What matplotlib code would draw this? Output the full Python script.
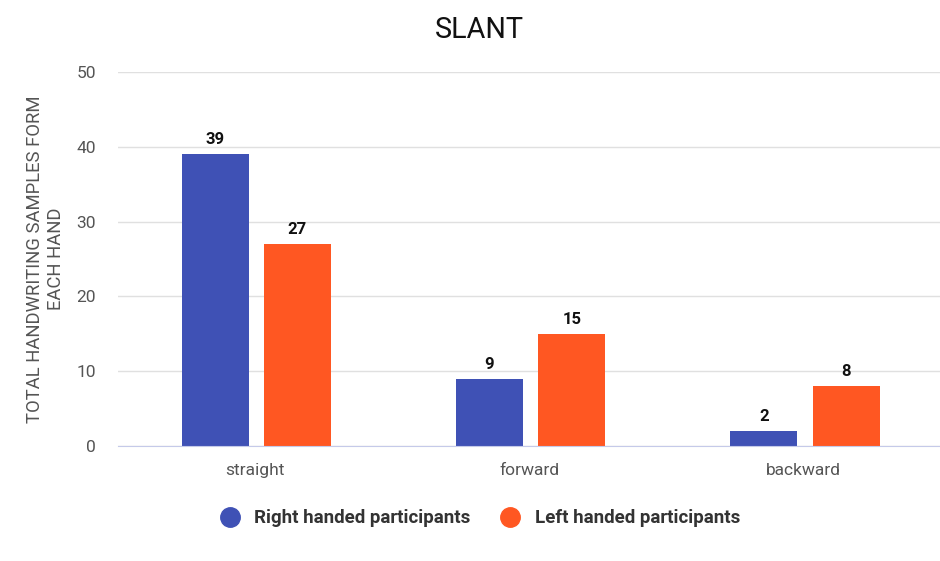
import matplotlib.pyplot as plt
from matplotlib.lines import Line2D
import numpy as np

categories = ["straight", "forward", "backward"]
right_handed = [39, 9, 2]
left_handed = [27, 15, 8]
series_names = ["Right handed participants", "Left handed participants"]
y_ticks = [0, 10, 20, 30, 40, 50]

blue = "#3F51B5"
orange = "#FF5722"

plt.rcParams["font.family"] = ["Roboto", "DejaVu Sans"]

fig = plt.figure(figsize=(9.4, 5.61), dpi=100)
ax = fig.add_axes([118 / 940, 115 / 561, 823 / 940, 374 / 561])

x = np.arange(len(categories))
width = 0.244
offset = 0.15

bars_r = ax.bar(x - offset + 0.004, right_handed, width, color=blue, zorder=3)
bars_l = ax.bar(x + offset + 0.004, left_handed, width, color=orange, zorder=3)

for bars in (bars_r, bars_l):
    for b in bars:
        ax.annotate(f"{b.get_height():g}", (b.get_x() + b.get_width() / 2, b.get_height()),
                    xytext=(0, 5), textcoords="offset points", ha="center", va="bottom",
                    fontsize=12, fontweight="bold", color="#111111")

ax.set_xlim(-0.5, 2.5)
ax.set_ylim(0, 50)
ax.set_yticks(y_ticks)
ax.set_xticks(x)
ax.set_xticklabels(categories)
ax.tick_params(axis="both", length=0, labelsize=12.5, labelcolor="#555555")
ax.tick_params(axis="x", pad=12)
ax.tick_params(axis="y", pad=16)

ax.grid(axis="y", color="#e0e0e0", linewidth=1, zorder=0)
for s in ["top", "right", "left"]:
    ax.spines[s].set_visible(False)
ax.spines["bottom"].set_color("#c5cae9")
ax.spines["bottom"].set_zorder(4)

ax.set_ylabel("TOTAL HANDWRITING SAMPLES FORM\nEACH HAND", fontsize=13.3, color="#555555",
              labelpad=8, linespacing=1.25)

fig.suptitle("SLANT", fontsize=20.7, x=0.51, y=0.971, color="#111111")

handles = [Line2D([], [], marker="o", linestyle="", markersize=14, color=c) for c in (blue, orange)]
fig.legend(handles, series_names, loc="center", bbox_to_anchor=(0.506, 0.076), ncol=2, frameon=False,
           prop={"size": 13.5, "weight": "bold"}, labelcolor="#333333", handletextpad=0.3,
           columnspacing=1.1)

fig.savefig("out.png", dpi=100)
